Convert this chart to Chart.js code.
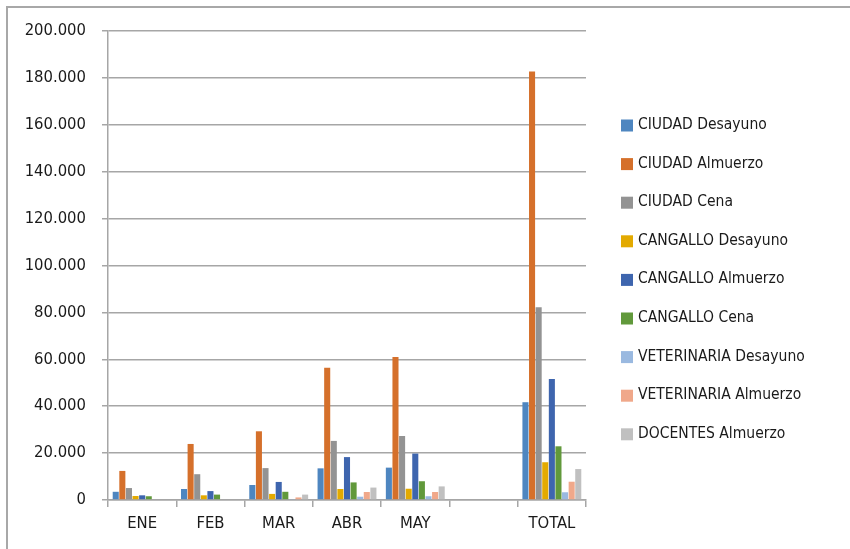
<!DOCTYPE html>
<html>
<head>
<meta charset="utf-8">
<script src="https://cdn.jsdelivr.net/npm/chart.js@4/dist/chart.umd.min.js"></script>
<style>
    html, body { margin: 0; padding: 0; background: #fff; overflow: hidden; }
    #wrap { position: relative; width: 850px; height: 549px; overflow: hidden; background: #fff; }
    .linea { position: absolute; background: #a8a8a8; }
    #arriba { left: 6px; top: 6px; width: 844px; height: 1.5px; }
    #izq { left: 6px; top: 6px; width: 1.5px; height: 543px; }
    canvas { position: absolute; left: 0; top: 0; }
</style>
</head>
<body>
<div id="wrap">
    <div class="linea" id="arriba"></div>
    <div class="linea" id="izq"></div>
    <canvas id="raciones" width="850" height="549"></canvas>
</div>
<script>
// datos
const categorias = ['ENE', 'FEB', 'MAR', 'ABR', 'MAY', '', 'TOTAL'];

const ciudadDesayuno      = [3500, 4700, 6400, 13500, 13800, null, 41700];
const ciudadAlmuerzo      = [12400, 23900, 29300, 56400, 61000, null, 182700];
const ciudadCena          = [5100, 11000, 13600, 25200, 27300, null, 82200];
const cangalloDesayuno    = [1700, 2000, 2600, 4700, 4800, null, 16100];
const cangalloAlmuerzo    = [2000, 3800, 7700, 18300, 19800, null, 51600];
const cangalloCena        = [1600, 2300, 3500, 7500, 8000, null, 22900];
const veterinariaDesayuno = [0, 0, 400, 1400, 1600, null, 3300];
const veterinariaAlmuerzo = [0, 0, 1100, 3400, 3400, null, 7800];
const docentesAlmuerzo    = [0, 0, 2300, 5300, 5800, null, 13200];

const yTicks = [0, 20000, 40000, 60000, 80000, 100000, 120000, 140000, 160000, 180000, 200000];

const FONT = '"DejaVu Sans Condensed", "DejaVu Sans", sans-serif';

function miles(v) {
    // separador de miles con punto
    return String(v).replace(/\B(?=(\d{3})+(?!\d))/g, '.');
}

const series = [
    ['CIUDAD Desayuno', ciudadDesayuno, '#4e86c0'],
    ['CIUDAD Almuerzo', ciudadAlmuerzo, '#d5702b'],
    ['CIUDAD Cena', ciudadCena, '#939393'],
    ['CANGALLO Desayuno', cangalloDesayuno, '#e3aa00'],
    ['CANGALLO Almuerzo', cangalloAlmuerzo, '#3e65ae'],
    ['CANGALLO Cena', cangalloCena, '#61993b'],
    ['VETERINARIA Desayuno', veterinariaDesayuno, '#9ab9e0'],
    ['VETERINARIA Almuerzo', veterinariaAlmuerzo, '#f0a88a'],
    ['DOCENTES Almuerzo', docentesAlmuerzo, '#c0c0c0']
];

// leyenda lateral dibujada a mano
const leyendaLateral = {
    id: 'leyendaLateral',
    afterDraw(chart) {
        const ctx = chart.ctx;
        ctx.save();
        ctx.font = '15.5px ' + FONT;
        ctx.textBaseline = 'middle';
        chart.data.datasets.forEach((ds, i) => {
            const y = 125 + i * 38.6;
            ctx.fillStyle = ds.backgroundColor;
            ctx.fillRect(621, y - 5.5, 12, 12);
            ctx.fillStyle = '#1a1a1a';
            ctx.fillText(ds.label, 638, y);
        });
        ctx.restore();
    }
};

new Chart(document.getElementById('raciones'), {
    type: 'bar',
    data: {
        labels: categorias,
        datasets: series.map(s => ({
            label: s[0],
            data: s[1],
            backgroundColor: s[2],
            borderWidth: 0,
            categoryPercentage: 0.87,
            barPercentage: 0.92
        }))
    },
    options: {
        responsive: false,
        animation: false,
        layout: { padding: { top: 31, right: 264, bottom: 0, left: 0 } },
        plugins: {
            legend: { display: false },
            tooltip: { enabled: false }
        },
        scales: {
            x: {
                afterFit(scale) { scale.height = 49; },
                grid: {
                    offset: true,
                    drawOnChartArea: false,
                    drawTicks: true,
                    tickLength: 7,
                    color: '#a6a6a6',
                    lineWidth: 1.5
                },
                border: { color: '#a6a6a6', width: 1.5 },
                ticks: {
                    color: '#1a1a1a',
                    padding: 7,
                    font: { family: FONT, size: 16.5 }
                }
            },
            y: {
                min: 0,
                max: 200000,
                afterFit(scale) { scale.width = 108; },
                afterBuildTicks(scale) { scale.ticks = yTicks.map(v => ({ value: v })); },
                grid: {
                    color: '#a6a6a6',
                    lineWidth: 1.5,
                    tickLength: 6
                },
                border: { color: '#a6a6a6', width: 1.5 },
                ticks: {
                    color: '#1a1a1a',
                    padding: 16,
                    font: { family: FONT, size: 16.5 },
                    callback: v => miles(v)
                }
            }
        }
    },
    plugins: [leyendaLateral]
});
</script>
</body>
</html>
